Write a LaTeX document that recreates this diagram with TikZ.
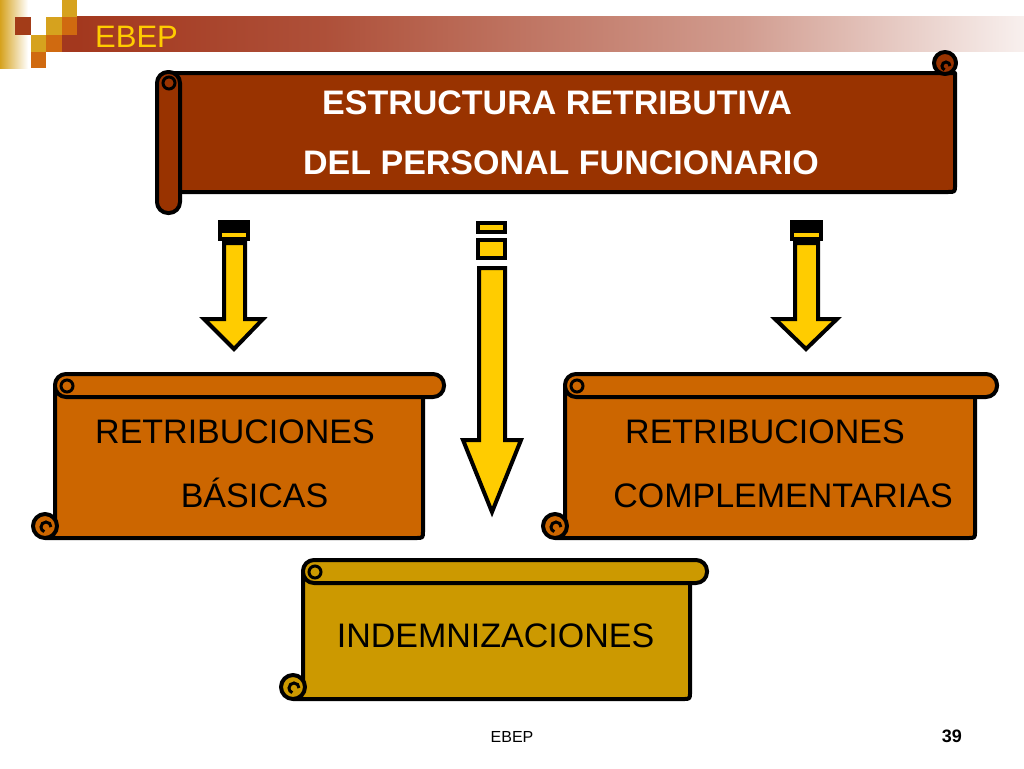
\documentclass[tikz,border=0pt]{standalone}
\usepackage{fontspec}
\setmainfont{Liberation Sans}
\definecolor{hdr}{RGB}{163,56,30}
\definecolor{hdrend}{RGB}{248,240,238}
\definecolor{gold}{RGB}{214,162,30}
\definecolor{orng}{RGB}{204,102,0}
\definecolor{rust}{RGB}{153,51,0}
\definecolor{ochre}{RGB}{204,153,0}
\definecolor{yel}{RGB}{255,204,0}
\definecolor{sqred}{RGB}{163,60,24}
\definecolor{sqorng}{RGB}{208,106,16}
\pgfdeclarehorizontalshading{bannershade}{100bp}{color(0bp)=(hdr); color(25bp)=(hdr); color(38bp)=(hdr!88!white); color(60bp)=(hdr!50!white); color(75bp)=(hdrend); color(100bp)=(hdrend)}
\tikzset{
  outl/.style={draw=black, line width=4pt, line join=round},
  curl/.style={draw=black, line width=3pt},
  blk/.style={draw=black, fill=yel, line width=4pt, line join=miter},
  big/.style={font=\fontsize{34}{40}\selectfont, anchor=base, inner sep=0pt},
  bigb/.style={font=\fontsize{34}{40}\selectfont\bfseries, anchor=base, inner sep=0pt, text=white},
}
% #1 L, #2 R body, #3 roll right, #4 T, #5 B, #6 colour
\newcommand\myhscroll[6]{%
  \draw[outl, fill=#6] (#1,#4+11) -- (#2,#4+11) -- (#2,#5-7) .. controls (#2,#5) .. (#2-7,#5) -- (#1-10,#5) -- (#1-10,#5-12) -- (#1,#5-12) -- cycle;
  \draw[outl, fill=#6] (#1-10,#5-12) circle[radius=12pt];
  \draw[curl] (#1-9,#5-11) ++(5pt,0pt) arc[start angle=0,end angle=250,radius=5pt];
  \draw[outl, fill=#6, rounded corners=11pt] (#1,#4) rectangle (#3,#4+23);
  \draw[curl] (#1+12,#4+12) circle[radius=6pt];
}
\begin{document}
\begin{tikzpicture}[x=1pt,y=-1pt]
\useasboundingbox (0,0) rectangle (1024,768);
\fill[white] (0,0) rectangle (1024,768);
% header decoration
\shade[left color=gold, right color=white] (0,0) rectangle (28,68);
\shade[shading=bannershade] (77,17) rectangle (1024,52);
\fill[sqred] (15,17) rectangle (31,35);
\fill[gold] (46,17) rectangle (62,35);
\fill[gold] (62,0) rectangle (77,17);
\fill[sqorng] (62,17) rectangle (77,35);
\fill[gold] (31,35) rectangle (46,52);
\fill[sqorng] (46,35) rectangle (62,52);
\fill[hdr] (62,35) rectangle (77,52);
\fill[sqorng] (31,52) rectangle (46,68);
\node[anchor=base west, inner sep=0pt, text=yel, font=\fontsize{31}{36}\selectfont] (hd) at (95,48) {EBEP};

% top scroll
\draw[outl, fill=rust] (170,73) -- (955,73) -- (955,185) .. controls (955,192) .. (948,192) -- (170,192) -- cycle;
\draw[outl, fill=rust] (945,63) circle[radius=11pt];
\draw[curl] (946,66) ++(4pt,0pt) arc[start angle=0,end angle=250,radius=4pt];
\draw[outl, fill=rust, rounded corners=11pt] (157,72) rectangle (180,213);
\draw[curl] (169,83) circle[radius=6pt];
\node[bigb] (t1) at (557,114) {ESTRUCTURA RETRIBUTIVA};
\node[bigb] (t2) at (561,174) {DEL PERSONAL FUNCIONARIO};

% arrows
\fill[black] (218,220) rectangle (250,230);
\draw[blk] (220,231) rectangle (248,239);
\draw[blk] (224,243) -- (245,243) -- (245,319) -- (263,319) -- (234,349) -- (204,319) -- (224,319) -- cycle;

\draw[blk] (478,223) rectangle (505,232);
\draw[blk] (478,240) rectangle (505,258);
\draw[blk] (479,268) -- (505,268) -- (505,440) -- (521,440) -- (492,512) -- (463,440) -- (479,440) -- cycle;

\fill[black] (790,220) rectangle (823,230);
\draw[blk] (792,231) rectangle (821,239);
\draw[blk] (795,243) -- (818,243) -- (818,319) -- (837,319) -- (806,349) -- (775,319) -- (795,319) -- cycle;

% lower scrolls
\myhscroll{55}{423}{444}{374}{538}{orng}
\myhscroll{565}{975}{997}{374}{538}{orng}
\myhscroll{303}{690}{707}{560}{699}{ochre}

\node[big] (b1) at (235,443) {RETRIBUCIONES};
\node[big] (b2) at (254.5,507) {BÁSICAS};
\node[big] (c1) at (765,443) {RETRIBUCIONES};
\node[big] (c2) at (783,507) {COMPLEMENTARIAS};
\node[big] (i1) at (495.5,647) {INDEMNIZACIONES};

% footer
\node[anchor=base, inner sep=0pt, font=\fontsize{16}{19}\selectfont] (ft) at (512,742) {EBEP};
\node[anchor=base east, inner sep=0pt, font=\fontsize{18}{21}\selectfont\bfseries] (pg) at (962,742) {39};
\end{tikzpicture}
\end{document}
